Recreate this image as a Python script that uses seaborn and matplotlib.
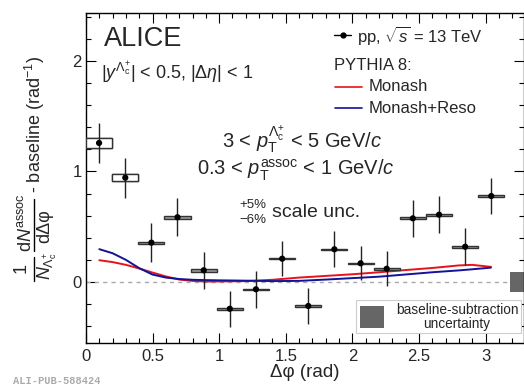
import numpy as np
import pandas as pd
import matplotlib
matplotlib.use("Agg")
import matplotlib.pyplot as plt
from matplotlib.patches import Rectangle
from matplotlib.lines import Line2D
import seaborn as sns

# ---- data ----
dphi = [0.098, 0.295, 0.491, 0.687, 0.884, 1.080, 1.276, 1.473,
        1.669, 1.865, 2.062, 2.258, 2.454, 2.651, 2.847, 3.043]
yield_vals = [1.258, 0.944, 0.356, 0.586, 0.106, -0.242, -0.066, 0.211,
              -0.217, 0.296, 0.169, 0.120, 0.576, 0.609, 0.319, 0.778]
stat_err = [0.18, 0.18, 0.175, 0.172, 0.166, 0.163, 0.165, 0.161,
            0.163, 0.161, 0.155, 0.158, 0.166, 0.166, 0.166, 0.163]
syst_err = [0.045, 0.032, 0.008, 0.012, 0.012, 0.007, 0.007, 0.007,
            0.007, 0.007, 0.007, 0.007, 0.008, 0.008, 0.008, 0.008]
bin_halfwidth = 0.098

model_x = [0.1, 0.2, 0.3, 0.4, 0.5, 0.6, 0.7, 0.8, 0.9, 1.0, 1.2, 1.4,
           1.6, 1.8, 2.0, 2.2, 2.4, 2.6, 2.8, 2.9, 3.04]
monash = [0.197, 0.18, 0.155, 0.122, 0.085, 0.05, 0.022, 0.01, 0.004, 0.005,
          0.008, 0.02, 0.04, 0.055, 0.07, 0.088, 0.108, 0.127, 0.15, 0.155, 0.137]
monash_reso = [0.297, 0.26, 0.20, 0.125, 0.067, 0.04, 0.027, 0.02, 0.017, 0.015,
               0.012, 0.008, 0.01, 0.022, 0.035, 0.048, 0.068, 0.088, 0.105, 0.115, 0.13]
baseline_unc = 0.087

sns.set_theme(style="ticks")
plt.rcParams['font.family'] = ['Liberation Sans', 'DejaVu Sans']
plt.rcParams['mathtext.fontset'] = 'custom'
plt.rcParams['mathtext.rm'] = 'Liberation Sans'
plt.rcParams['mathtext.it'] = 'Liberation Sans:italic'
plt.rcParams['mathtext.bf'] = 'Liberation Sans:bold'

W, H = 524, 387
fig = plt.figure(figsize=(W/100, H/100), dpi=100)
ax = fig.add_axes([86/W, 1-343/H, 437.5/W, 330/H])

ax.set_xlim(0, 3.285)
ax.set_ylim(-0.552, 2.434)

# zero line
ax.axhline(0, color='#aaaaaa', ls=(0, (3, 3)), lw=1.0, zorder=1)

# baseline uncertainty square
ax.add_patch(Rectangle((3.18, -baseline_unc), 0.12, 2*baseline_unc,
                       facecolor='#666666', edgecolor='none', zorder=2))

# models
mdf = pd.DataFrame({'x': model_x * 2,
                    'y': monash + monash_reso,
                    'model': ['Monash']*len(model_x) + ['Monash+Reso']*len(model_x)})
sns.lineplot(data=mdf, x='x', y='y', hue='model',
             palette={'Monash': '#e8121a', 'Monash+Reso': '#12129a'},
             lw=1.4, ax=ax, legend=False, zorder=3)

# systematic boxes
for x, y, s in zip(dphi, yield_vals, syst_err):
    ax.add_patch(Rectangle((x - bin_halfwidth, y - s), 2*bin_halfwidth, 2*s,
                           facecolor='#999999', edgecolor='#333333', lw=1.0, zorder=4))
for x, y, s in zip(dphi[:2], yield_vals[:2], syst_err[:2]):
    ax.add_patch(Rectangle((x - bin_halfwidth, y - s), 2*bin_halfwidth, 2*s,
                           facecolor='white', edgecolor='#333333', lw=1.0, zorder=4))

# stat errors + points
ax.errorbar(dphi, yield_vals, yerr=stat_err, fmt='none', ecolor='#222222',
            elinewidth=1.0, capsize=0, zorder=5)
pdf = pd.DataFrame({'x': dphi, 'y': yield_vals})
sns.scatterplot(data=pdf, x='x', y='y', color='black', s=20, edgecolor='none',
                ax=ax, zorder=6)

# axes styling
ax.set_xticks([0, 0.5, 1, 1.5, 2, 2.5, 3])
ax.set_xticklabels(['0', '0.5', '1', '1.5', '2', '2.5', '3'])
ax.set_yticks([0, 1, 2])
ax.set_yticklabels(['0', '1', '2'])
ax.set_xticks(np.arange(0, 3.3, 0.1), minor=True)
ax.set_yticks(np.arange(-0.4, 2.45, 0.2), minor=True)
ax.tick_params(which='both', direction='in', top=True, right=True, color='black', width=0.8)
ax.tick_params(which='major', length=7.5, labelsize=12)
ax.tick_params(which='minor', length=3.8)
ax.tick_params(axis='x', which='major', pad=4)
ax.tick_params(axis='y', which='major', pad=3)
for sp in ax.spines.values():
    sp.set_linewidth(1.0)
    sp.set_color('black')

ax.set_xlabel('Δφ (rad)', fontsize=13.5, labelpad=0)
ax.set_ylabel('')

# ---- y-axis title built from pieces (pixel coordinates) ----
def ftext(px, py, s, **kw):
    fig.text(px/W, 1-py/H, s, rotation=90, ha='center', va='center', **kw)

ftext(35, 124, r'- baseline (rad$^{-1}$)', fontsize=13)
# dN^assoc / dΔφ
ftext(26, 223, r'd$N^{\rm assoc}$', fontsize=13)
ftext(45, 226, 'dΔφ', fontsize=13)
fig.add_artist(Line2D([34/W, 34/W], [1-251/H, 1-199/H], color='black', lw=1.0))
# 1 / N_{Lambda_c^+}
ftext(21.5, 268, '1', fontsize=13)
ftext(47, 266, r'$N_{\Lambda_{\rm c}^{+}}$', fontsize=13)
fig.add_artist(Line2D([34/W, 34/W], [1-281/H, 1-257/H], color='black', lw=1.0))

# texts
ax.text(0.041, 0.921, 'ALICE', transform=ax.transAxes, fontsize=19.5, va='center', ha='left')
ax.text(0.034, 0.821, r'$|y^{\Lambda_{\rm c}^{+}}|$ < 0.5, $|\Delta\eta|$ < 1',
        transform=ax.transAxes, fontsize=13, va='center', ha='left')
ax.text(0.311, 0.618, r'3 < $p_{\rm T}^{\Lambda_{\rm c}^{+}}$ < 5 GeV/$c$',
        transform=ax.transAxes, fontsize=14.5, va='center', ha='left')
ax.text(0.254, 0.522, r'0.3 < $p_{\rm T}^{\rm assoc}$ < 1 GeV/$c$',
        transform=ax.transAxes, fontsize=14.5, va='center', ha='left')
ax.text(0.35, 0.418, '+5%', transform=ax.transAxes, fontsize=9.5, va='center', ha='left')
ax.text(0.35, 0.373, '−6%', transform=ax.transAxes, fontsize=9.5, va='center', ha='left')
ax.text(0.425, 0.394, 'scale unc.', transform=ax.transAxes, fontsize=14, va='center', ha='left')

# legend-like entries
ax.plot([0.567, 0.606], [0.933, 0.933], color='black', lw=1.0, transform=ax.transAxes)
ax.plot([0.5865], [0.933], 'o', color='black', ms=3.5, transform=ax.transAxes)
ax.text(0.619, 0.933, r'pp, $\sqrt{s}$ = 13 TeV', transform=ax.transAxes,
        fontsize=12, va='center', ha='left')
ax.text(0.567, 0.842, 'PYTHIA 8:', transform=ax.transAxes, fontsize=12, va='center', ha='left')
ax.plot([0.569, 0.631], [0.776, 0.776], color='#e8121a', lw=1.2, transform=ax.transAxes)
ax.text(0.647, 0.776, 'Monash', transform=ax.transAxes, fontsize=12, va='center', ha='left')
ax.plot([0.569, 0.631], [0.712, 0.712], color='#12129a', lw=1.2, transform=ax.transAxes)
ax.text(0.647, 0.712, 'Monash+Reso', transform=ax.transAxes, fontsize=12, va='center', ha='left')

# baseline-subtraction box
ax.add_patch(Rectangle((0.617, 0.030), 0.377, 0.100, transform=ax.transAxes,
                       facecolor='white', edgecolor='#cccccc', lw=0.8, zorder=7))
ax.add_patch(Rectangle((0.626, 0.045), 0.055, 0.067, transform=ax.transAxes,
                       facecolor='#666666', edgecolor='none', zorder=8))
ax.text(0.848, 0.100, 'baseline-subtraction', transform=ax.transAxes, fontsize=9.8,
        va='center', ha='center', zorder=8)
ax.text(0.848, 0.058, 'uncertainty', transform=ax.transAxes, fontsize=9.8,
        va='center', ha='center', zorder=8)

fig.text(13/W, 1-381/H, 'ALI-PUB-588424', fontsize=7.5, color='#aaaaaa',
         family='Liberation Mono', weight='bold', va='center', ha='left')

fig.savefig('out.png', dpi=100)
